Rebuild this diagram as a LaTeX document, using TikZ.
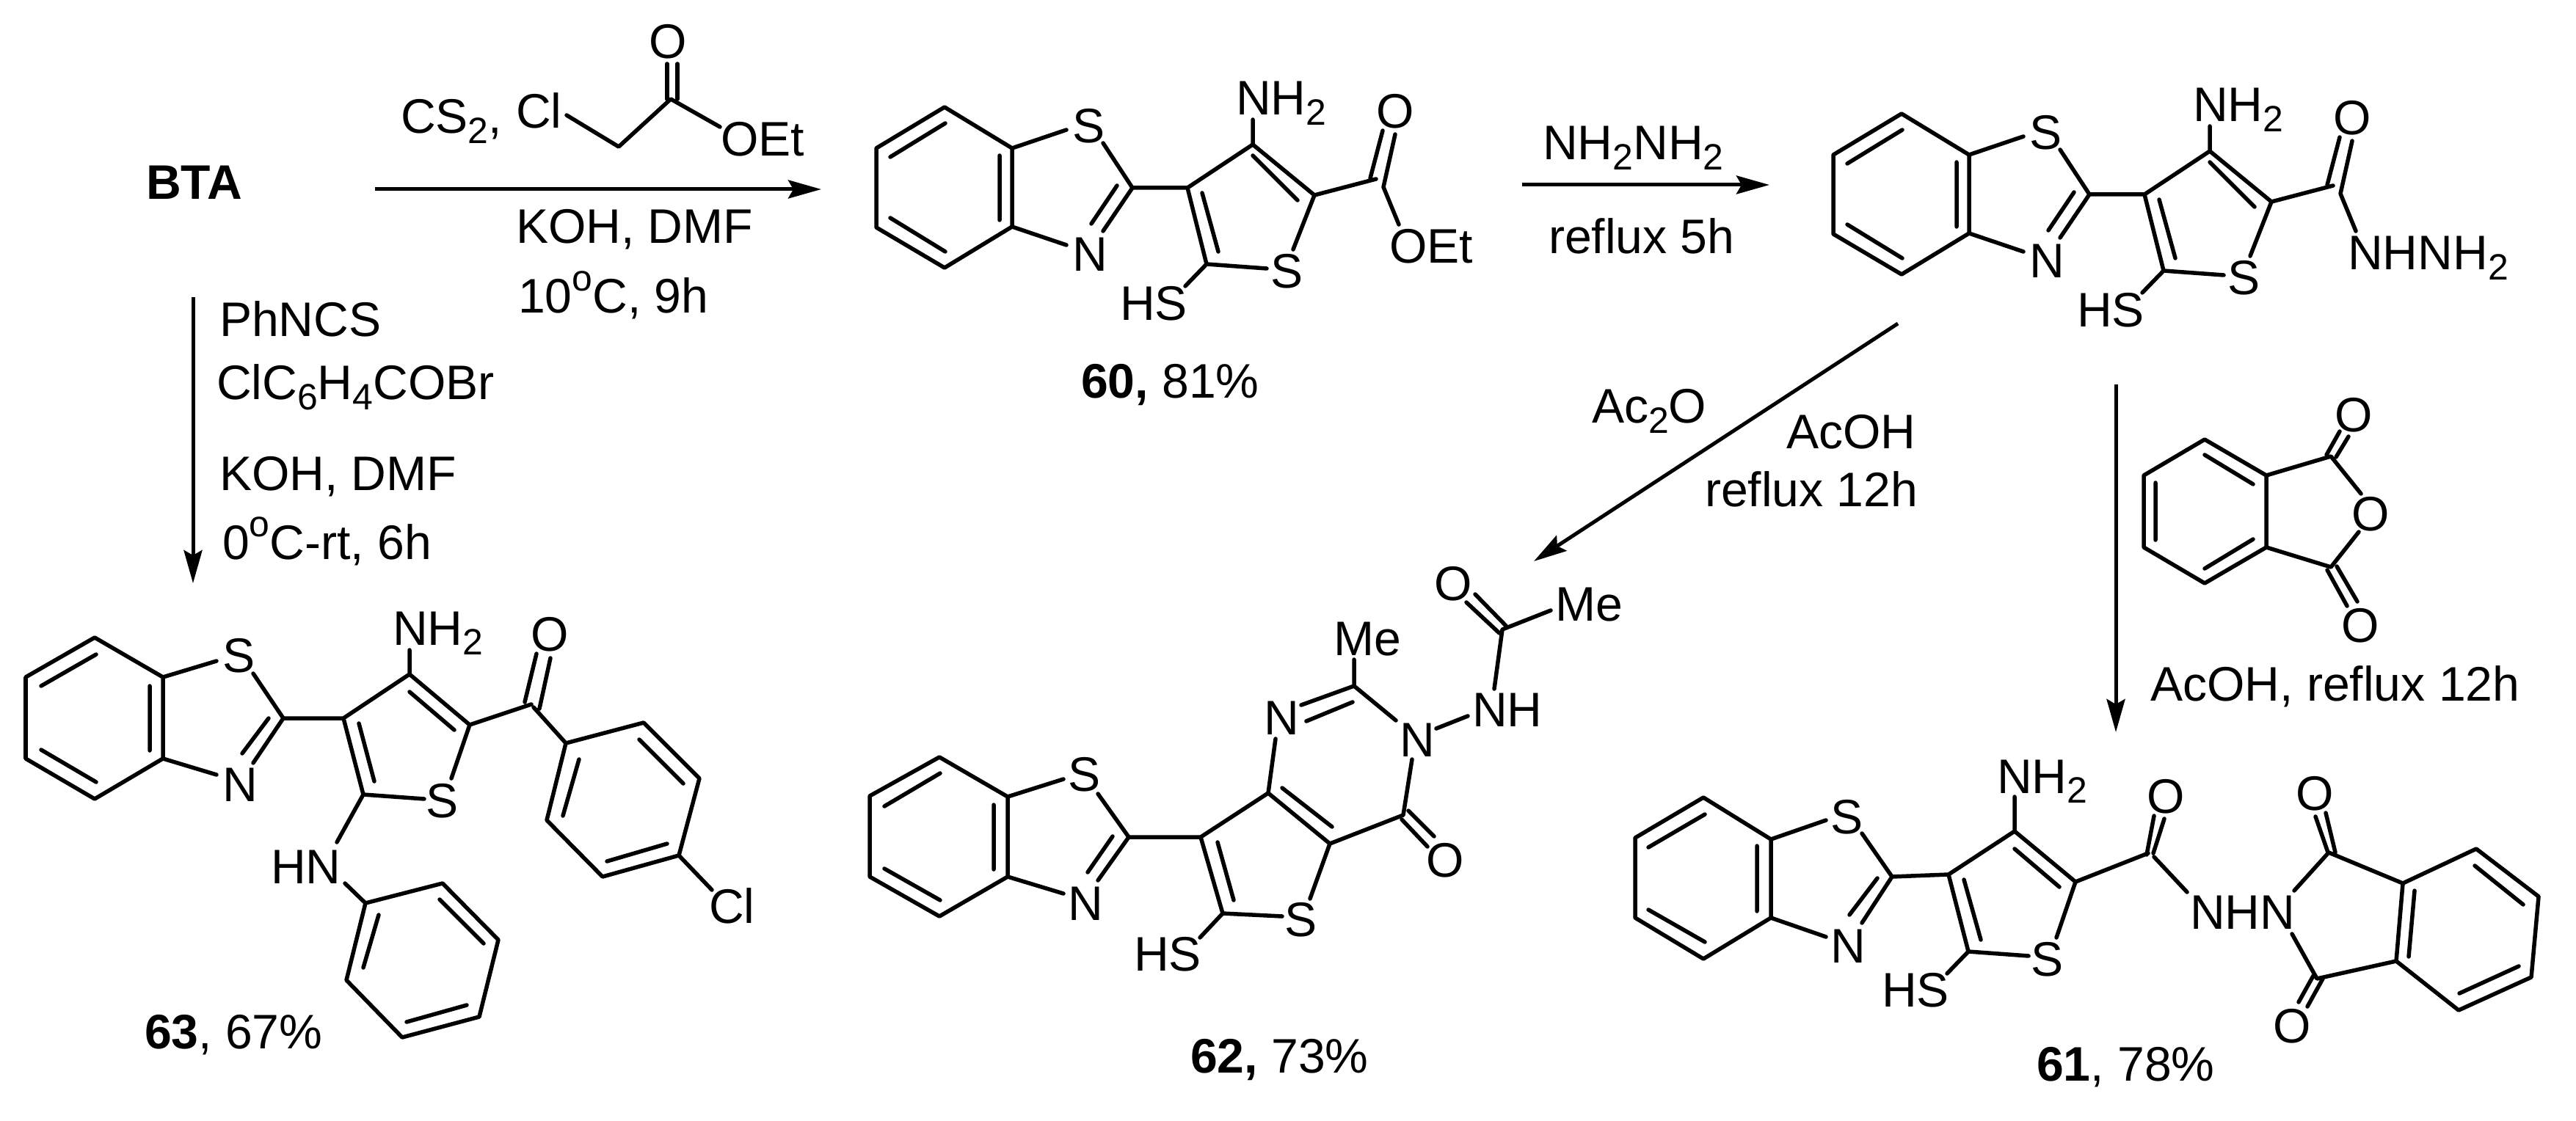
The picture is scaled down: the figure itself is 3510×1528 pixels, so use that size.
\documentclass[tikz,border=0pt]{standalone}
\usepackage{fontspec}
\setmainfont{Liberation Sans}
\usetikzlibrary{arrows.meta}
\newcommand\dn[1]{\raisebox{-.2em}{\fontsize{14.2}{14}\selectfont #1}}
\newcommand\uo{\raisebox{.46em}{\fontsize{14.2}{14}\selectfont o}}
\tikzset{
  lab/.style={anchor=base west,inner sep=0pt,outer sep=0pt,xshift=-.04cm,font=\fontsize{18.8}{22}\selectfont},
  bond/.style={line width=.055cm,line cap=round,line join=round},
  rxn/.style={line width=.05cm,-{Stealth[length=.45cm,width=.25cm,inset=.07cm]}}
}
\begin{document}
\begin{tikzpicture}[x=.01cm,y=-.01cm]
\path[use as bounding box,fill=white] (0,0) rectangle (3510,1528);

% ---------- reagents and arrows ----------
\node[lab] (bta) at (203,272) {\textbf{BTA}};
\node[lab] (cs) at (550,182) {CS\dn{2},};
\node[lab] (rcl) at (707,175) {Cl};
\node[lab] (ro) at (888,80) {O};
\node[lab] (roet) at (986,213) {OEt};
\draw[bond] (772,157)--(843,200)--(914,135)--(981,173);
\draw[bond] (909,135)--(909,87) (923,135)--(923,87);
\coordinate (a1s) at (511,258); \coordinate (a1e) at (1119,258);
\draw[rxn] (a1s)--(a1e);
\node[lab] (kd1) at (707,332) {KOH, DMF};
\node[lab] (t1) at (710,427) {10\uo C, 9h};

\coordinate (a2s) at (263,405); \coordinate (a2e) at (263,795);
\draw[rxn] (a2s)--(a2e);
\node[lab] (r21) at (303,459) {PhNCS};
\node[lab] (r22) at (299,545) {ClC\dn{6}H\dn{4}COBr};
\node[lab] (r23) at (303,668) {KOH, DMF};
\node[lab] (r24) at (307,762) {0\uo C-rt, 6h};

\coordinate (a3s) at (2074,252); \coordinate (a3e) at (2411,252);
\draw[rxn] (a3s)--(a3e);
\node[lab] (r31) at (2106,218) {NH\dn{2}NH\dn{2}};
\node[lab] (r32) at (2114,346) {reflux 5h};

\coordinate (a4s) at (2586,441); \coordinate (a4e) at (2090,765);
\draw[rxn] (a4s)--(a4e);
\node[lab] (r41) at (2173,577) {Ac\dn{2}O};
\node[lab] (r42) at (2438,612) {AcOH};
\node[lab] (r43) at (2327,690) {reflux 12h};

\coordinate (a5s) at (2883,524); \coordinate (a5e) at (2883,998);
\draw[rxn] (a5s)--(a5e);
\node[lab] (r51) at (2934,955) {AcOH, reflux 12h};

% ---------- phthalic anhydride ----------
\draw[bond] (3004,599)--(2921,648)--(2921,746)--(3004,795)--(3088,746)--(3088,648)--cycle;
\draw[bond] (3004,620)--(3070,660) (2937,658)--(2937,736) (3004,775)--(3070,735);
\draw[bond] (3088,648)--(3176,622)--(3217,673) (3088,746)--(3176,773)--(3214,725);
\draw[bond] (3170,620)--(3188,588) (3183,623)--(3200,595);
\draw[bond] (3171,777)--(3198,826) (3184,772)--(3212,820);
\node[lab] (ano) at (3208,723) {O};
\node[lab] (ano1) at (3185,588) {O};
\node[lab] (ano2) at (3194,875) {O};

% ---------- 60 and hydrazide: same core ----------
\foreach \dx/\dy/\tag in {0/0/a,1304/9/b}{
\begin{scope}[shift={(\dx*.01cm,-\dy*.01cm)}]
\draw[bond] (1287,146)--(1194,202)--(1194,310)--(1287,365)--(1379,309)--(1379,202)--cycle;
\draw[bond] (1213,214)--(1288,168) (1362,212)--(1362,300) (1213,297)--(1288,343);
\draw[bond] (1379,202)--(1453,177) (1503,195)--(1543,256)--(1503,315) (1522,253)--(1487,305) (1453,334)--(1379,309);
\draw[bond] (1543,256)--(1618,256)--(1707,197)--(1707,163) (1707,197)--(1791,266)--(1762,340);
\draw[bond] (1707,212)--(1768,273) (1618,256)--(1644,360)--(1726,366) (1638,263)--(1660,343) (1644,360)--(1615,390);
\draw[bond] (1791,266)--(1875,244) (1867,243)--(1884,178) (1885,255)--(1901,183) (1885,255)--(1906,306);
\node[lab] (s1\tag) at (1465,195) {S};
\node[lab] (n1\tag) at (1465,370) {N};
\node[lab] (nh\tag) at (1688,157) {NH\dn{2}};
\node[lab] (o1\tag) at (1879,175) {O};
\node[lab] (s2\tag) at (1735,393) {S};
\node[lab] (hs\tag) at (1530,437) {HS};
\end{scope}}
\node[lab] (oet) at (1897,359) {OEt};
\node[lab] (nhn) at (3203,368) {NHNH\dn{2}};
\node[lab] (l60) at (1477,543) {\textbf{60,} 81\%};

% ---------- 63 ----------
\draw[bond] (129,869)--(35,923)--(35,1034)--(129,1089)--(222,1034)--(222,923)--cycle;
\draw[bond] (56,935)--(131,892) (204,935)--(204,1023) (56,1022)--(131,1066);
\draw[bond] (222,923)--(295,901) (345,918)--(386,979)--(345,1040) (366,979)--(330,1027) (295,1056)--(222,1034);
\draw[bond] (386,979)--(468,979)--(558,919)--(558,886) (558,919)--(640,988)--(615,1061);
\draw[bond] (558,943)--(619,995) (468,979)--(495,1083)--(578,1089) (489,986)--(510,1065) (495,1083)--(459,1148);
\draw[bond] (640,988)--(724,960) (715,957)--(731,891) (735,966)--(750,897) (727,964)--(771,1013);
\draw[bond] (771,1013)--(877,985)--(953,1061)--(925,1166)--(821,1195)--(745,1118)--cycle;
\draw[bond] (871,1008)--(931,1068) (909,1150)--(827,1174) (789,1035)--(767,1112) (925,1166)--(970,1213);
\draw[bond] (470,1204)--(498,1231)--(603,1204)--(679,1281)--(653,1386)--(548,1414)--(472,1336)--(498,1231);
\draw[bond] (599,1226)--(659,1286) (636,1370)--(554,1393) (516,1247)--(495,1319);
\node[lab] (s63) at (307,916) {S};
\node[lab] (n63) at (307,1092) {N};
\node[lab] (nh63) at (539,879) {NH\dn{2}};
\node[lab] (st63) at (584,1114) {S};
\node[lab] (hn63) at (373,1204) {HN};
\node[lab] (o63) at (727,887) {O};
\node[lab] (cl63) at (970,1258) {Cl};
\node[lab] (l63) at (201,1429) {\textbf{63}, 67\%};

% ---------- 62 ----------
\draw[bond] (1280,1032)--(1185,1085)--(1185,1195)--(1280,1249)--(1373,1195)--(1373,1086)--cycle;
\draw[bond] (1205,1099)--(1281,1054) (1354,1097)--(1354,1185) (1205,1184)--(1281,1227);
\draw[bond] (1373,1086)--(1449,1062) (1496,1082)--(1538,1141)--(1496,1200) (1516,1140)--(1482,1189) (1449,1218)--(1373,1195);
\draw[bond] (1538,1141)--(1636,1141)--(1728,1081)--(1812,1150)--(1785,1225);
\draw[bond] (1747,1074)--(1815,1127) (1636,1141)--(1666,1245)--(1747,1249) (1659,1148)--(1681,1227) (1666,1245)--(1635,1278);
\draw[bond] (1728,1081)--(1738,1007) (1773,961)--(1845,935) (1780,983)--(1843,957);
\draw[bond] (1845,899)--(1845,935)--(1902,982) (1924,1035)--(1912,1111)--(1812,1150);
\draw[bond] (1910,1117)--(1945,1154) (1919,1105)--(1954,1140);
\draw[bond] (1957,993)--(2000,976) (2036,939)--(2047,858)--(2113,832);
\draw[bond] (1998,821)--(2043,863) (2010,810)--(2052,853);
\node[lab] (s62) at (1459,1078) {S};
\node[lab] (n62) at (1459,1254) {N};
\node[lab] (st62) at (1754,1276) {S};
\node[lab] (hs62) at (1549,1323) {HS};
\node[lab] (n1p) at (1726,1001) {N};
\node[lab] (me62) at (1821,893) {Me};
\node[lab] (n3p) at (1911,1031) {N};
\node[lab] (o62) at (1947,1195) {O};
\node[lab] (nh62) at (2010,990) {NH};
\node[lab] (mea) at (2123,846) {Me};
\node[lab] (oa) at (1958,818) {O};
\node[lab] (l62) at (1626,1462) {\textbf{62,} 73\%};

% ---------- 61 ----------
\draw[bond] (2321,1087)--(2228,1142)--(2228,1251)--(2321,1307)--(2413,1251)--(2413,1144)--cycle;
\draw[bond] (2246,1155)--(2323,1110) (2394,1153)--(2394,1242) (2246,1240)--(2323,1284);
\draw[bond] (2413,1144)--(2488,1118) (2537,1136)--(2578,1195)--(2537,1258) (2558,1197)--(2520,1247) (2488,1277)--(2413,1251);
\draw[bond] (2578,1195)--(2655,1192)--(2745,1133)--(2745,1086) (2745,1133)--(2828,1202)--(2802,1278);
\draw[bond] (2745,1157)--(2806,1209) (2655,1192)--(2682,1297)--(2764,1303) (2676,1199)--(2699,1281) (2682,1297)--(2653,1327);
\draw[bond] (2828,1202)--(2927,1163) (2925,1165)--(2935,1112) (2934,1163)--(2949,1116) (2935,1168)--(2980,1216);
\draw[bond] (3126,1214)--(3173,1162)--(3274,1204) (3172,1162)--(3155,1113) (3182,1162)--(3169,1108);
\draw[bond] (3274,1204)--(3374,1157)--(3459,1222)--(3449,1332)--(3350,1377)--(3265,1310)--cycle;
\draw[bond] (3372,1180)--(3438,1233) (3432,1317)--(3351,1354) (3290,1214)--(3282,1304);
\draw[bond] (3265,1310)--(3157,1334)--(3123,1273) (3152,1330)--(3132,1366) (3165,1334)--(3144,1372);
\node[lab] (s61) at (2498,1136) {S};
\node[lab] (n61) at (2498,1312) {N};
\node[lab] (nh61) at (2725,1081) {NH\dn{2}};
\node[lab] (st61) at (2771,1330) {S};
\node[lab] (hs61) at (2568,1372) {HS};
\node[lab] (o61a) at (2929,1108) {O};
\node[lab] (nhn61) at (2988,1266) {NHN};
\node[lab] (o61b) at (3132,1104) {O};
\node[lab] (o61c) at (3101,1421) {O};
\node[lab] (l61) at (2779,1473) {\textbf{61}, 78\%};
\end{tikzpicture}
\end{document}
